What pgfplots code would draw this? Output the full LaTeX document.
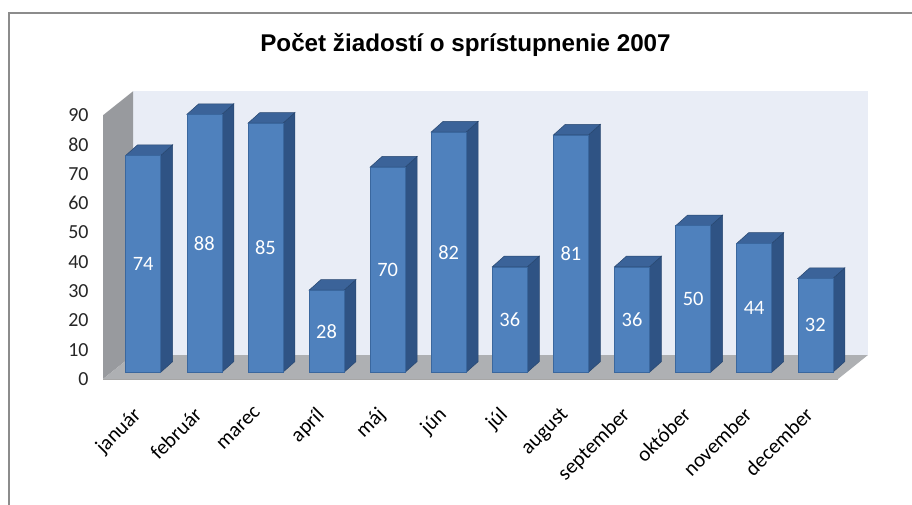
\documentclass[border=0pt]{standalone}
\usepackage{fontspec}
\setmainfont{Carlito}
\newfontfamily\titlefont{Liberation Sans}
\usepackage{pgfplots}
\usepackage{pgfplotstable}
\pgfplotsset{compat=1.18}
\definecolor{barfront}{HTML}{4F81BD}
\definecolor{baredge}{HTML}{3A679E}
\definecolor{bartop}{HTML}{3B6399}
\definecolor{barside}{HTML}{2F5384}
\definecolor{backwall}{HTML}{E9EDF6}
\definecolor{sidewall}{HTML}{989A9E}
\definecolor{floorc}{HTML}{AEB0B3}
\definecolor{framec}{HTML}{8C8C8C}
\pgfplotstableread{
idx v
0 74
1 88
2 85
3 28
4 70
5 82
6 36
7 81
8 36
9 50
10 44
11 32
}\datatable
\begin{document}
\begin{tikzpicture}
\useasboundingbox (0,0) rectangle (912bp,505bp);
\fill[white] (0,0) rectangle (912bp,505bp);
\draw[framec, line width=1.8bp] (9bp,0) -- (9bp,492bp) -- (912bp,492bp);
\node[font=\titlefont\bfseries\fontsize{24.3}{28}\selectfont, anchor=base] at (465.5bp,453.3bp) {Počet žiadostí o sprístupnenie 2007};
\begin{axis}[
  at={(103bp,126bp)}, anchor=south west,
  scale only axis, width=769.86bp, height=290.07bp,
  xmin=0, xmax=12.6, ymin=0, ymax=99,
  axis line style={draw=none},
  major tick length=0pt,
  ytick={0,10,20,30,40,50,60,70,80,90},
  xtick={0.52,1.52,2.52,3.52,4.52,5.52,6.52,7.52,8.52,9.52,10.52,11.52},
  xticklabels={január,február,marec,apríl,máj,jún,júl,august,september,október,november,december},
  /pgf/number format/assume math mode=true,
  yticklabel style={font=\fontsize{20}{24}\selectfont, text=black!85, xshift=-11bp},
  xticklabel style={font=\fontsize{21}{25}\selectfont, text=black, xshift=-3bp, yshift=-22bp, rotate=45, anchor=north east},
  clip=false,
]
% back wall, side wall, floor
\addplot[fill=backwall, draw=none] coordinates {(0.491,8.19) (12.52,8.19) (12.52,98.19) (0.491,98.19)} -- cycle;
\addplot[fill=sidewall, draw=none] coordinates {(0,0) (0.491,8.19) (0.491,98.19) (0,90)} -- cycle;
\addplot[fill=floorc, draw=none] coordinates {(0,0) (12.03,0) (12.52,8.19) (0.491,8.19)} -- cycle;
\addplot[draw=black!35, line width=0.8bp] coordinates {(0,0) (12.03,0)};
% bars
\pgfplotsinvokeforeach{0,...,11}{
  \pgfplotstablegetelem{#1}{v}\of\datatable
  \let\val=\pgfplotsretval
  \pgfmathsetmacro\xa{#1+0.3715}
  \pgfmathsetmacro\xb{\xa+0.573}
  \pgfmathsetmacro\xc{\xb+0.196}
  \pgfmathsetmacro\xd{\xa+0.196}
  \pgfmathsetmacro\yt{2.29+\val}
  \pgfmathsetmacro\ytt{\yt+3.65}
  \edef\doplot{%
    \noexpand\addplot[fill=barside, draw=barside!85!black, line width=0.5bp] coordinates {(\xb,2.29) (\xc,5.94) (\xc,\ytt) (\xb,\yt)} -- cycle;
    \noexpand\addplot[fill=bartop, draw=barside!85!black, line width=0.5bp] coordinates {(\xa,\yt) (\xb,\yt) (\xc,\ytt) (\xd,\ytt)} -- cycle;
    \noexpand\addplot[fill=barfront, draw=baredge, line width=0.6bp] coordinates {(\xa,2.29) (\xb,2.29) (\xb,\yt) (\xa,\yt)} -- cycle;
  }%
  \doplot
}
% value labels
\addplot[draw=none, mark=none, nodes near coords, point meta=explicit symbolic,
  every node near coord/.append style={font=\fontsize{20.5}{24}\selectfont, text=white, anchor=center}]
  table[x expr=\thisrow{idx}+0.658, y expr=2.29+\thisrow{v}/2, meta=v] {\datatable};
\end{axis}
\end{tikzpicture}
\end{document}
